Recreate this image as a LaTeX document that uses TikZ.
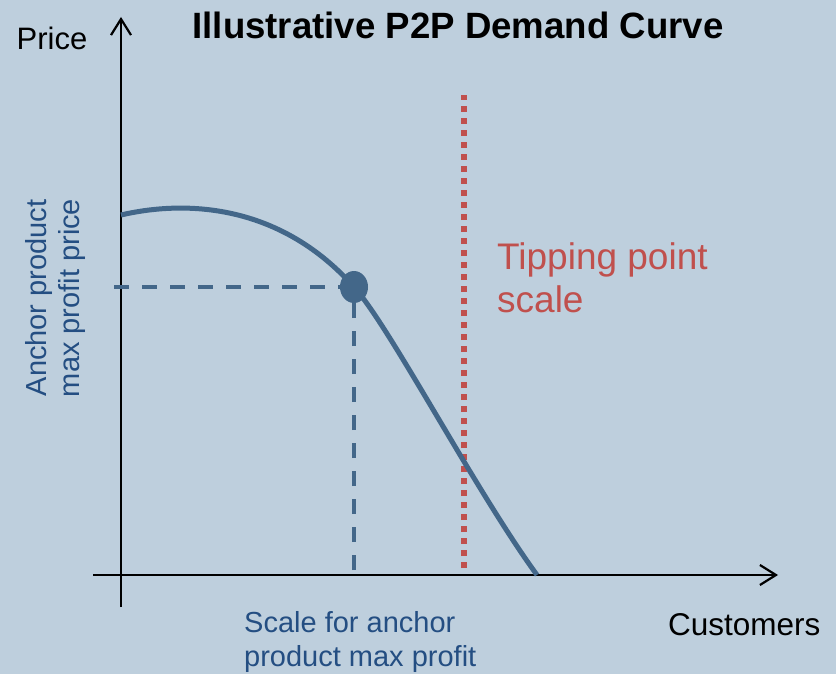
\documentclass[tikz,border=0pt]{standalone}
\usepackage{fontspec}
\setmainfont{Liberation Sans}
\usetikzlibrary{arrows.meta,shapes.geometric}
\definecolor{bgblue}{RGB}{190,207,221}
\definecolor{curveblue}{RGB}{67,103,137}
\definecolor{textblue}{RGB}{36,78,130}
\definecolor{tipred}{RGB}{192,80,77}
\tikzset{
  axis/.style={line width=2.5pt, -{Straight Barb[length=16pt,width=20pt,line width=2.2pt]}},
  demand/.style={line width=5pt, curveblue},
  guide/.style={line width=3.8pt, curveblue, dash pattern=on 15pt off 13pt},
  tipline/.style={line width=6.5pt, tipred, dash pattern=on 6pt off 6pt},
  lbl/.style={inner sep=0pt, text=black},
}
\begin{document}
\begin{tikzpicture}[x=1pt,y=-1pt]
\useasboundingbox (0,0) rectangle (836,674);
\fill[bgblue] (0,0) rectangle (836,674);

% axes
\coordinate (ybot) at (121,607);
\coordinate (ytop) at (121,17);
\coordinate (xleft) at (93,575);
\coordinate (xright) at (778,575);
\draw[axis] (ybot) -- (ytop);
\draw[axis] (xleft) -- (xright);

% tipping point line
\coordinate (tipbot) at (464,568);
\coordinate (tiptop) at (464,95);
\draw[tipline] (tipbot) -- (tiptop);

% guides
\coordinate (hstart) at (114,287);
\coordinate (vstart) at (354,570);
\coordinate (dotc) at (354,287);
\draw[guide] (hstart) -- (dotc);
\draw[guide] (vstart) -- (dotc);

% demand curve
\coordinate (cstart) at (121,215);
\coordinate (cend) at (537,575);
\draw[demand] (cstart) .. controls (190,199) and (282,206) .. (dotc)
  .. controls (390,327) and (475,490) .. (cend);

% max profit point
\node[ellipse, fill=curveblue, minimum width=28pt, minimum height=32pt, inner sep=0pt] (dot) at (dotc) {};

% labels
\node[lbl, font=\fontsize{36.6}{43}\selectfont\bfseries] (title) at (458,25) {Illustrative P2P Demand Curve};
\node[lbl, font=\fontsize{31}{37}\selectfont] (price) at (52,38) {Price};
\node[lbl, font=\fontsize{31.5}{37}\selectfont, anchor=west] (cust) at (668,625) {Customers};
\node[lbl, font=\fontsize{37}{43}\selectfont, text=tipred, align=left, anchor=west] (tip) at (497,278) {Tipping point\\scale};
\node[lbl, font=\fontsize{29}{34}\selectfont, text=textblue, align=left, anchor=west] (scale) at (244,642) {Scale for anchor\\product max profit};
\node[lbl, font=\fontsize{29}{33}\selectfont, text=textblue, align=center, rotate=90] (anchor) at (56,298) {Anchor product\\max profit price};
\end{tikzpicture}
\end{document}
